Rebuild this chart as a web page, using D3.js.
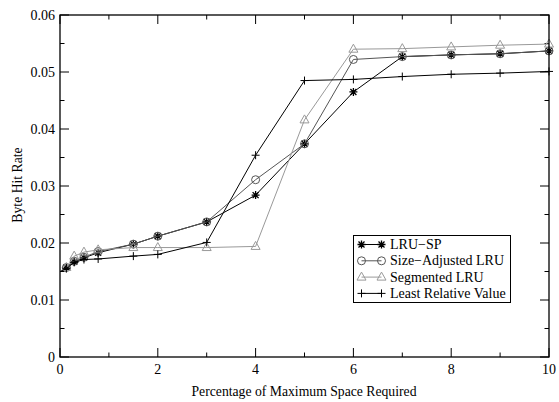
<!DOCTYPE html>
<html><head><meta charset="utf-8">
<script src="https://cdn.jsdelivr.net/npm/d3@7"></script>
<style>body{margin:0;background:#fff}svg{display:block}</style>
</head><body>
<svg id="c" width="559" height="402"></svg>
<script>
const xValues = [0.13, 0.29, 0.49, 0.78, 1.5, 2, 3, 4, 5, 6, 7, 8, 9, 10];
const lruSp = [0.0157, 0.0167, 0.0174, 0.0183, 0.0198, 0.0212, 0.0237, 0.0284, 0.0374, 0.0465, 0.0527, 0.0530, 0.0532, 0.0537];
const sizeAdjusted = [0.0157, 0.0168, 0.0175, 0.0185, 0.0198, 0.0212, 0.0237, 0.0311, 0.0374, 0.0522, 0.0527, 0.0530, 0.0532, 0.0537];
const segmented = [0.0157, 0.0177, 0.0184, 0.0188, 0.0192, 0.0192, 0.0192, 0.0194, 0.0416, 0.0540, 0.0541, 0.0544, 0.0547, 0.0549];
const lrvX = [0, 0.13, 0.29, 0.49, 0.78, 1.5, 2, 3, 4, 5, 6, 7, 8, 9, 10];
const lrv = [0.0150, 0.0155, 0.0166, 0.0171, 0.0172, 0.0177, 0.0180, 0.0201, 0.0354, 0.0485, 0.0487, 0.0492, 0.0496, 0.0498, 0.0501];
const xTicks = [0, 2, 4, 6, 8, 10];
const yTicks = [0, 0.01, 0.02, 0.03, 0.04, 0.05, 0.06];
const seriesNames = ["LRU\u2212SP", "Size\u2212Adjusted LRU", "Segmented LRU", "Least Relative Value"];
const xTitle = "Percentage of Maximum Space Required";
const yTitle = "Byte Hit Rate";

const series = [
  {name: seriesNames[0], xs: xValues, ys: lruSp, color: "#000", marker: "star", skipFirst: false},
  {name: seriesNames[1], xs: xValues, ys: sizeAdjusted, color: "#555", marker: "circle", skipFirst: false},
  {name: seriesNames[2], xs: xValues, ys: segmented, color: "#999", marker: "triangle", skipFirst: false},
  {name: seriesNames[3], xs: lrvX, ys: lrv, color: "#000", marker: "plus", skipFirst: true}
];

const svg = d3.select("#c");
const L = 60, R = 549, T = 15, B = 357;
const x = d3.scaleLinear().domain([0, 10]).range([L, R]);
const y = d3.scaleLinear().domain([0, 0.06]).range([B, T]);
const font = "'Liberation Serif','DejaVu Serif',serif";

// ticks (inward, mirrored)
const g = svg.append("g").attr("stroke", "#000").attr("stroke-width", 1);
d3.range(0, 10.01, 1).forEach(v => {
  const len = (v % 2 === 0) ? 9 : 4.5;
  g.append("line").attr("x1", x(v)).attr("x2", x(v)).attr("y1", B).attr("y2", B - len);
  g.append("line").attr("x1", x(v)).attr("x2", x(v)).attr("y1", T).attr("y2", T + len);
});
d3.range(0, 13).forEach(i => {
  const v = i * 0.005;
  const len = (i % 2 === 0) ? 9 : 4.5;
  g.append("line").attr("y1", y(v)).attr("y2", y(v)).attr("x1", L).attr("x2", L + len);
  g.append("line").attr("y1", y(v)).attr("y2", y(v)).attr("x1", R).attr("x2", R - len);
});

// tick labels
svg.append("g").selectAll("text").data(xTicks).join("text")
  .attr("x", d => x(d)).attr("y", B + 17).attr("text-anchor", "middle")
  .attr("font-family", font).attr("font-size", 14).text(d => d);
svg.append("g").selectAll("text").data(yTicks).join("text")
  .attr("x", L - 5).attr("y", d => y(d) + 4.5).attr("text-anchor", "end")
  .attr("font-family", font).attr("font-size", 14).text(d => d === 0 ? "0" : d3.format(".2f")(d));

// titles
svg.append("text").attr("x", 304).attr("y", 396).attr("text-anchor", "middle")
  .attr("font-family", font).attr("font-size", 13.7).text(xTitle);
svg.append("text").attr("transform", "translate(22,185) rotate(-90)").attr("text-anchor", "middle")
  .attr("font-family", font).attr("font-size", 13.7).text(yTitle);

function marker(sel, type, cx, cy, color) {
  const m = sel.append("g").attr("transform", `translate(${cx},${cy})`).attr("stroke", color).attr("fill", "none").attr("stroke-width", 1);
  const s = 4;
  if (type === "star") {
    m.append("path").attr("d", `M${-s},0H${s}M0,${-s}V${s}M${-s*0.75},${-s*0.75}L${s*0.75},${s*0.75}M${-s*0.75},${s*0.75}L${s*0.75},${-s*0.75}`).attr("stroke-width", 1.3);
  } else if (type === "circle") {
    m.append("circle").attr("r", 4);
  } else if (type === "triangle") {
    m.append("path").attr("d", `M0,${-5}L${4.5},${3}L${-4.5},${3}Z`);
  } else if (type === "plus") {
    m.append("path").attr("d", `M${-s},0H${s}M0,${-s}V${s}`);
  }
}

const line = d3.line().x(d => x(d[0])).y(d => y(d[1]));
series.forEach(s => {
  const pts = s.xs.map((v, i) => [v, s.ys[i]]);
  svg.append("path").datum(pts).attr("d", line).attr("fill", "none").attr("stroke", s.color).attr("stroke-width", 1);
  const mg = svg.append("g");
  pts.forEach((p, i) => { if (!(s.skipFirst && i === 0)) marker(mg, s.marker, x(p[0]), y(p[1]), s.color); });
});

// frame
svg.append("rect").attr("x", L).attr("y", T).attr("width", R - L).attr("height", B - T)
  .attr("fill", "none").attr("stroke", "#000").attr("stroke-width", 1.3);

// legend
const lg = svg.append("g");
lg.append("rect").attr("x", 353.5).attr("y", 235.5).attr("width", 157).attr("height", 67)
  .attr("fill", "#fff").attr("stroke", "#000").attr("stroke-width", 1);
series.forEach((s, i) => {
  const yy = 244.5 + i * 16.3;
  lg.append("line").attr("x1", 361.5).attr("x2", 381.5).attr("y1", yy).attr("y2", yy).attr("stroke", s.color).attr("stroke-width", 1);
  marker(lg, s.marker, 361.5, yy, s.color);
  marker(lg, s.marker, 381.5, yy, s.color);
  lg.append("text").attr("x", 390).attr("y", yy + 4.5).attr("font-family", font).attr("font-size", 14).text(s.name);
});
</script>
</body></html>
